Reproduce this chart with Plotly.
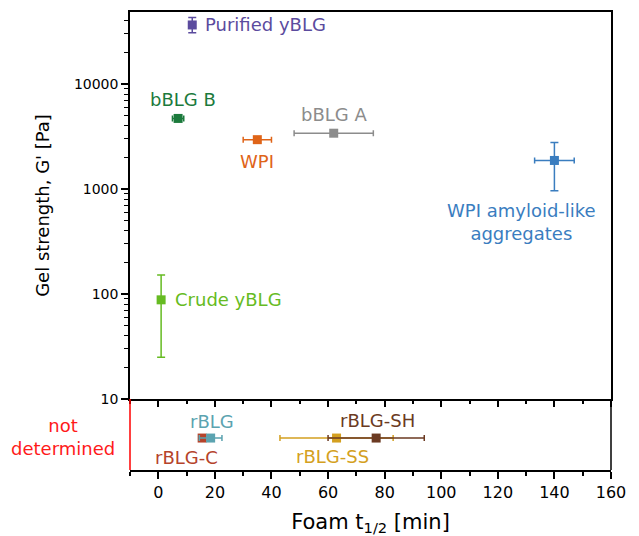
import math
import plotly.graph_objects as go

# ---- data (main panel: gel strength measured) ----
names = ["Purified yBLG", "bBLG B", "WPI", "bBLG A", "WPI amyloid-like<br>aggregates", "Crude yBLG"]
foam_t = [12, 7, 35, 62, 140, 1]
foam_err = [1, 2, 5, 14, 7, 0]
gel = [36500, 4700, 2950, 3400, 1870, 88]
gel_err_plus = [6600, 0, 0, 0, 900, 64]
gel_err_minus = [5700, 0, 0, 0, 910, 63]
colors = ["#5b4b9e", "#1b7a3c", "#df6418", "#8c8c8c", "#3a7dbf", "#66bb22"]

# ---- data (bottom panel: gel strength not determined) ----
nd_names = ["rBLG-C", "rBLG", "rBLG-SS", "rBLG-SH"]
nd_foam_t = [15.5, 18.5, 63, 77]
nd_foam_err = [1, 4, 20, 17]
nd_colors = ["#b5432a", "#5ba3b0", "#d4a020", "#6b3a22"]

y_ticks = [10, 100, 1000, 10000]
y_ticktext = ["10", "100", "1000", "10000"]
y_minor = [m * 10 ** d for d in range(1, 5) for m in range(2, 10) if m * 10 ** d < 48500]
x_ticks = list(range(0, 161, 20))

FONT = "DejaVu Sans, Verdana, sans-serif"
LABEL_SIZE = 18

fig = go.Figure()

for n, x, xe, y, yp, ym, c in zip(names, foam_t, foam_err, gel, gel_err_plus, gel_err_minus, colors):
    fig.add_trace(go.Scatter(
        x=[x], y=[y], mode="markers", name=n, xaxis="x", yaxis="y",
        marker=dict(symbol="square", size=9, color=c),
        error_x=dict(type="data", array=[xe], visible=xe > 0, color=c, thickness=1.5, width=3),
        error_y=dict(type="data", array=[yp], arrayminus=[ym], visible=yp > 0, color=c, thickness=1.5, width=4),
        showlegend=False))

for n, x, xe, c in zip(nd_names, nd_foam_t, nd_foam_err, nd_colors):
    fig.add_trace(go.Scatter(
        x=[x], y=[0.45], mode="markers", name=n, xaxis="x2", yaxis="y2",
        marker=dict(symbol="square", size=9, color=c),
        error_x=dict(type="data", array=[xe], color=c, thickness=1.5, width=3),
        showlegend=False))

# label offsets (pixels) relative to each point
label_shift = {
    "Purified yBLG": (11, 0, "left"),
    "bBLG B": (5, 19, "center"),
    "WPI": (0, -22, "center"),
    "bBLG A": (0, 19, "center"),
    "WPI amyloid-like<br>aggregates": (-33, -62, "center"),
    "Crude yBLG": (12, 0, "left"),
}
for n, x, y, c in zip(names, foam_t, gel, colors):
    dx, dy, anc = label_shift[n]
    fig.add_annotation(x=x, y=math.log10(y), xref="x", yref="y", text=n, showarrow=False,
                       xshift=dx, yshift=dy, xanchor=anc, font=dict(family=FONT, size=LABEL_SIZE, color=c))

nd_shift = {"rBLG-C": (-16, -19), "rBLG": (1, 17), "rBLG-SS": (-4, -18), "rBLG-SH": (1, 18)}
for n, x, c in zip(nd_names, nd_foam_t, nd_colors):
    dx, dy = nd_shift[n]
    fig.add_annotation(x=x, y=0.45, xref="x2", yref="y2", text=n, showarrow=False,
                       xshift=dx, yshift=dy, font=dict(family=FONT, size=LABEL_SIZE, color=c))

fig.add_annotation(x=-0.14, y=0.46, xref="paper", yref="y2 domain", text="not<br>determined",
                   xanchor="center", yanchor="middle", showarrow=False,
                   font=dict(family=FONT, size=18, color="#ff1a1a"))

# bottom panel borders: red left, black right
fig.add_shape(type="line", xref="x2 domain", yref="y2 domain", x0=0, x1=0, y0=0, y1=1,
              line=dict(color="#ff0000", width=1.5))
fig.add_shape(type="line", xref="x2 domain", yref="y2 domain", x0=1, x1=1, y0=0, y1=1,
              line=dict(color="black", width=1.5))

split = 71 / 458
fig.update_layout(
    width=631, height=528,
    margin=dict(l=122, r=28, t=4, b=66),
    plot_bgcolor="white", paper_bgcolor="white",
    font=dict(family=FONT, size=15, color="black"),
    xaxis=dict(domain=[0, 1], anchor="y", range=[-10, 160], showticklabels=False, automargin=False,
               tickvals=x_ticks, ticks="outside", ticklen=6, tickwidth=1.5, tickcolor="black",
               minor=dict(ticks="outside", ticklen=3, tickwidth=1.5, dtick=10, tick0=0, tickcolor="black"),
               showline=True, linecolor="black", linewidth=1.5, mirror=True, showgrid=False, zeroline=False),
    yaxis=dict(domain=[split, 1], anchor="x", type="log", range=[1, math.log10(48500)], automargin=False,
               tickvals=y_ticks, ticktext=y_ticktext, ticks="outside", ticklen=7, tickwidth=1.5,
               tickcolor="black", tickfont=dict(size=14),
               minor=dict(ticks="outside", ticklen=4, tickwidth=1, tickvals=y_minor, tickcolor="black"),
               showline=True, linecolor="black", linewidth=1.5, mirror=True, showgrid=False, zeroline=False,
               title=dict(text="Gel strength, G' [Pa]", font=dict(size=18), standoff=20)),
    xaxis2=dict(domain=[0, 1], anchor="y2", range=[-10, 160], tickvals=x_ticks, automargin=False,
                ticks="outside", ticklen=7, tickwidth=1.5, tickcolor="black", tickfont=dict(size=16),
                minor=dict(ticks="outside", ticklen=4, tickwidth=1.5, dtick=10, tick0=0, tickcolor="black"),
                showline=True, linecolor="black", linewidth=1.5, showgrid=False, zeroline=False,
                title=dict(text="Foam t<sub>1/2</sub> [min]", font=dict(size=21), standoff=15)),
    yaxis2=dict(domain=[0, split], anchor="x2", range=[0, 1], showticklabels=False, ticks="",
                automargin=False, showline=False, showgrid=False, zeroline=False),
)

fig.write_html("out.html")
